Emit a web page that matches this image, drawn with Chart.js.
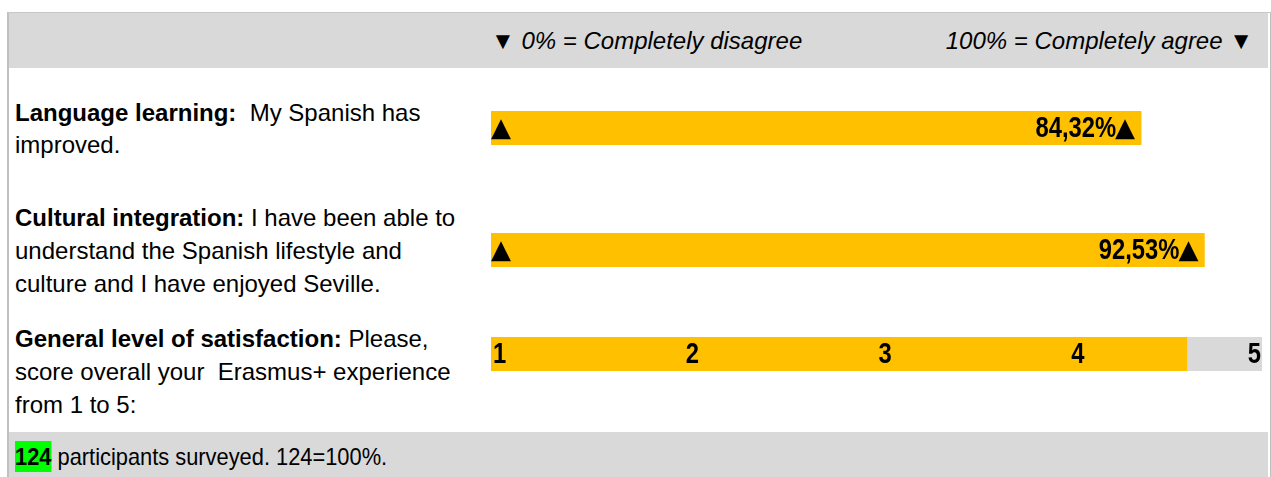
<!DOCTYPE html>
<html>
<head>
<meta charset="utf-8">
<script src="https://cdn.jsdelivr.net/npm/chart.js"></script>
<style>
    body {
        margin: 0;
        width: 1271px;
        height: 477px;
        background: #ffffff;
        overflow: hidden;
        position: relative;
        font-family: "Liberation Sans Narrow", "Arial Narrow", "Liberation Sans", Arial, sans-serif;
        color: #000;
    }
    .frame {
        position: absolute;
        left: 7px;
        top: 12px;
        width: 1261px;
        height: 470px;
        border-left: 2px solid #c0c0c0;
        border-top: 1px solid #c8c8c8;
        border-right: 2px solid #c0c0c0;
    }
    .band {
        position: absolute;
        left: 9px;
        width: 1259px;
        background: #d9d9d9;
    }
    .head-text {
        position: absolute;
        top: 25px;
        font-size: 24px;
        line-height: 32px;
        font-style: italic;
        white-space: nowrap;
    }
    .line {
        position: absolute;
        left: 15px;
        font-size: 24px;
        line-height: 32px;
        white-space: nowrap;
    }
    .line b { font-weight: bold; }
    .bar-box {
        position: absolute;
        left: 491px;
        width: 771px;
        height: 34px;
    }
    .foot {
        position: absolute;
        left: 15px;
        top: 441px;
        font-size: 24px;
        line-height: 32px;
        white-space: nowrap;
        transform: scaleX(0.91);
        transform-origin: left center;
    }
    .hl {
        display: inline-block;
        background: #00ff00;
        font-weight: bold;
        line-height: 31px;
        height: 31px;
    }
</style>
</head>
<body>
<div class="frame"></div>
<div class="band" style="top:13px;height:55px;"></div>
<div class="band" style="top:432px;height:45px;"></div>

<div class="head-text" style="left:491px;">&#9660; 0% = Completely disagree</div>
<div class="head-text" style="right:18px;">100% = Completely agree &#9660;</div>

<div class="line" style="top:97px;"><b>Language learning:</b><span>&nbsp;&nbsp;My Spanish has</span></div>
<div class="line" style="top:129px;"><span>improved.</span></div>

<div class="line" style="top:202px;"><b>Cultural integration:</b><span>&nbsp;I have been able to</span></div>
<div class="line" style="top:235px;"><span>understand the Spanish lifestyle and</span></div>
<div class="line" style="top:268px;"><span>culture and I have enjoyed Seville.</span></div>

<div class="line" style="top:323px;"><b>General level of satisfaction:</b><span>&nbsp;Please,</span></div>
<div class="line" style="top:356px;"><span>score overall your&nbsp; Erasmus+ experience</span></div>
<div class="line" style="top:389px;"><span>from 1 to 5:</span></div>

<div class="bar-box" style="top:111px;"><canvas id="bar0" width="771" height="34"></canvas></div>
<div class="bar-box" style="top:233px;"><canvas id="bar1" width="771" height="34"></canvas></div>
<div class="bar-box" style="top:337px;"><canvas id="bar2" width="771" height="34"></canvas></div>

<div class="foot"><span class="hl">124</span><span>&nbsp;participants surveyed. 124=100%.</span></div>

<script>
// Survey results
const pctQuestions = ['Language learning', 'Cultural integration'];
const pctValues = [84.32, 92.53];
const scoreQuestion = ['General level of satisfaction'];
const scoreValues = [4.61];
const scoreTicks = [1, 2, 3, 4, 5];

const barColor = '#ffc000';
const trackColor = '#d9d9d9';
const labelFont = 'bold 29px "Liberation Sans", Arial, sans-serif';
const arrowFont = '26px "DejaVu Sans", sans-serif';

Chart.defaults.animation = false;

// bold condensed look: squeeze the text horizontally, returns drawn width
function drawNarrow(ctx, text, x, y, align) {
    ctx.save();
    ctx.font = labelFont;
    const w = ctx.measureText(text).width * 0.82;
    ctx.translate(x, y);
    ctx.scale(0.82, 1);
    ctx.fillStyle = '#000';
    ctx.textBaseline = 'middle';
    ctx.textAlign = align;
    ctx.fillText(text, 0, 0);
    ctx.restore();
    return w;
}

// solid up arrow, returns drawn width
function drawArrow(ctx, x, y, align) {
    ctx.save();
    ctx.font = arrowFont;
    ctx.fillStyle = '#000';
    ctx.textBaseline = 'middle';
    ctx.textAlign = align;
    const w = ctx.measureText('\u25B2').width;
    ctx.fillText('\u25B2', x, y);
    ctx.restore();
    return w;
}

// Draws the arrows and the value inside the percentage bars
const pctLabelPlugin = {
    id: 'pctLabels',
    afterDatasetsDraw(chart) {
        const ctx = chart.ctx;
        const meta = chart.getDatasetMeta(0);
        meta.data.forEach((bar, i) => {
            const value = chart.data.datasets[0].data[i];
            if (value == null) return;
            drawArrow(ctx, bar.base, bar.y + 1, 'left');
            const aw = drawArrow(ctx, bar.x - 6, bar.y + 1, 'right');
            drawNarrow(ctx, value.toFixed(2).replace('.', ',') + '%', bar.x - 5 - aw, bar.y + 1, 'right');
        });
    }
};

// Draws the 1..5 scale numbers inside the satisfaction bar
const scoreLabelPlugin = {
    id: 'scoreLabels',
    afterDatasetsDraw(chart) {
        const ctx = chart.ctx;
        const xScale = chart.scales.x;
        const bar = chart.getDatasetMeta(1).data[0];
        scoreTicks.forEach((t, i) => {
            const px = xScale.getPixelForValue(t);
            if (i === scoreTicks.length - 1) {
                drawNarrow(ctx, String(t), px - 1, bar.y + 1, 'right');
            } else {
                drawNarrow(ctx, String(t), px + 2, bar.y + 1, 'left');
            }
        });
    }
};

const baseOptions = (min, max) => ({
    indexAxis: 'y',
    responsive: false,
    maintainAspectRatio: false,
    layout: { padding: 0 },
    plugins: {
        legend: { display: false },
        tooltip: { enabled: false }
    },
    scales: {
        x: { display: false, min: min, max: max },
        y: { display: false }
    }
});

function makePctChart(id, idx) {
    return new Chart(document.getElementById(id), {
        type: 'bar',
        data: {
            labels: [pctQuestions[idx]],
            datasets: [{
                data: [pctValues[idx]],
                backgroundColor: barColor,
                borderWidth: 0,
                barPercentage: 1,
                categoryPercentage: 1
            }]
        },
        options: baseOptions(0, 100),
        plugins: [pctLabelPlugin]
    });
}

makePctChart('bar0', 0);
makePctChart('bar1', 1);

new Chart(document.getElementById('bar2'), {
    type: 'bar',
    data: {
        labels: scoreQuestion,
        datasets: [{
            // full 1..5 track behind the score
            data: [scoreTicks[scoreTicks.length - 1]],
            backgroundColor: trackColor,
            borderWidth: 0,
            barPercentage: 1,
            categoryPercentage: 1,
            grouped: false,
            order: 2
        }, {
            data: scoreValues,
            backgroundColor: barColor,
            borderWidth: 0,
            barPercentage: 1,
            categoryPercentage: 1,
            grouped: false,
            order: 1
        }]
    },
    options: baseOptions(scoreTicks[0], scoreTicks[scoreTicks.length - 1]),
    plugins: [scoreLabelPlugin]
});
</script>
</body>
</html>
